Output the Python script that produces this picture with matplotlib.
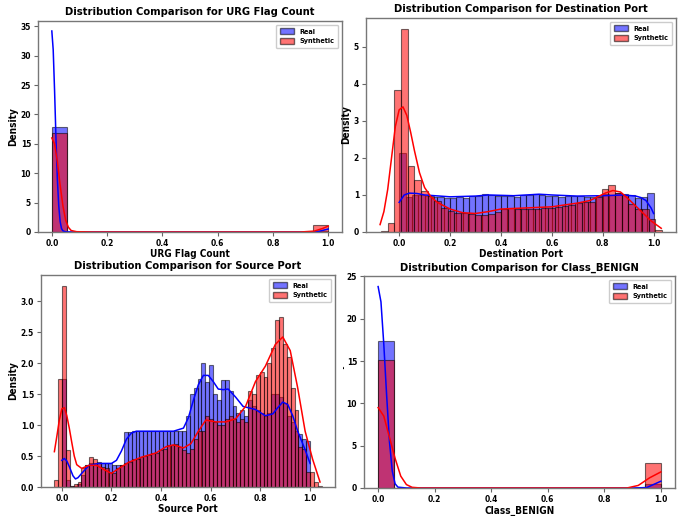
import numpy as np
import matplotlib

matplotlib.use("Agg")
import matplotlib.pyplot as plt
from matplotlib import font_manager
from matplotlib.patches import Patch
from matplotlib.transforms import Bbox, TransformedBbox

# The reference text is narrow; use a condensed face when there is one
fonts = font_manager.fontManager.ttflist
installed = {f.name for f in fonts}
has_condensed = any(f.name == "DejaVu Sans" and f.stretch in ("condensed", 400 - 100) for f in fonts)
if "Liberation Sans Narrow" in installed:
    plt.rcParams["font.family"] = ["Liberation Sans Narrow", "DejaVu Sans"]
    SCALE = 1.0
elif has_condensed:
    plt.rcParams["font.family"] = ["DejaVu Sans"]
    plt.rcParams["font.stretch"] = "condensed"
    SCALE = 0.8
else:
    plt.rcParams["font.family"] = ["DejaVu Sans"]
    SCALE = 0.72
plt.rcParams["font.weight"] = "bold"
plt.rcParams["axes.labelweight"] = "bold"

# ---------------------------------------------------------------------------
# Data (bar heights = density per bin, KDE samples)
# ---------------------------------------------------------------------------
# URG Flag Count: 18 bins on [0, 1]
urg_real = [17.8] + [0.0] * 16 + [0.18]
urg_syn = [16.9] + [0.0] * 16 + [1.15]
urg_real_kde_x = [0.0, 0.005, 0.01, 0.015, 0.02, 0.025, 0.03, 0.035, 0.04, 0.05, 0.1, 0.5, 0.9, 0.95, 0.97, 1.0]
urg_real_kde_y = [34.2, 31.0, 24.0, 16.0, 9.0, 4.5, 1.8, 0.6, 0.2, 0.02, 0.0, 0.0, 0.0, 0.02, 0.15, 0.5]
urg_syn_kde_x = [0.0, 0.01, 0.02, 0.03, 0.04, 0.05, 0.06, 0.07, 0.09, 0.15, 0.5, 0.9, 0.95, 0.98, 1.0]
urg_syn_kde_y = [16.0, 15.0, 12.0, 8.0, 4.5, 2.0, 0.8, 0.25, 0.05, 0.0, 0.0, 0.0, 0.15, 0.6, 1.0]

# Destination Port: real 40 bins on [0, 1], synthetic 42 bins from -0.072
dst_real = [2.13, 0.95, 1.0, 1.0, 0.97, 0.95, 0.95, 0.93, 0.93, 0.95,
            0.93, 0.97, 0.98, 1.02, 1.0, 0.98, 0.97, 0.97, 0.95, 1.0,
            1.0, 1.02, 1.0, 0.98, 0.97, 0.95, 0.97, 0.98, 0.97, 0.95,
            0.95, 0.97, 1.02, 1.0, 1.05, 1.03, 1.0, 0.92, 0.95, 1.05]
dst_syn = [0.02, 0.25, 3.83, 5.48, 1.78, 1.4, 1.1, 0.97, 0.83, 0.65,
           0.58, 0.52, 0.5, 0.48, 0.45, 0.45, 0.48, 0.55, 0.62, 0.65,
           0.62, 0.62, 0.62, 0.63, 0.65, 0.65, 0.68, 0.7, 0.72, 0.78,
           0.8, 0.82, 0.95, 1.15, 1.27, 1.05, 1.0, 0.75, 0.62, 0.62,
           0.35, 0.05]
dst_real_kde_x = [0.0, 0.02, 0.04, 0.07, 0.1, 0.2, 0.3, 0.35, 0.45, 0.55, 0.6, 0.7, 0.8, 0.88,
                  0.93, 0.95, 0.97, 0.99, 1.0]
dst_real_kde_y = [0.8, 1.0, 1.05, 1.04, 1.0, 0.95, 0.97, 1.0, 0.98, 1.02, 1.0, 0.97, 0.98, 1.0,
                  0.97, 0.93, 0.85, 0.65, 0.5]
dst_syn_kde_x = [-0.075, -0.06, -0.045, -0.03, -0.015, 0.0, 0.015, 0.03, 0.045, 0.06, 0.08, 0.1,
                 0.125, 0.15, 0.2, 0.25, 0.3, 0.35, 0.4, 0.5, 0.6, 0.7, 0.75, 0.78, 0.81,
                 0.84, 0.87, 0.9, 0.93, 0.96, 0.99, 1.03]
dst_syn_kde_y = [0.2, 0.55, 1.15, 2.0, 2.85, 3.3, 3.38, 3.15, 2.7, 2.2, 1.6, 1.2,
                 0.95, 0.8, 0.62, 0.52, 0.5, 0.55, 0.62, 0.65, 0.68, 0.78, 0.85, 0.95, 1.05,
                 1.12, 1.08, 0.9, 0.7, 0.5, 0.3, 0.1]

# Source Port: real 64 bins on [0, 1], synthetic 69 bins from -0.03
src_real = [1.75, 0.12, 0.02, 0.02, 0.05, 0.2, 0.35, 0.38, 0.38, 0.38,
            0.38, 0.38, 0.38, 0.35, 0.35, 0.35, 0.88, 0.88, 0.9, 0.9,
            0.9, 0.9, 0.9, 0.9, 0.9, 0.9, 0.9, 0.9, 0.9, 0.9,
            0.9, 0.9, 1.15, 1.5, 1.6, 1.75, 2.0, 1.7, 1.97, 1.5,
            1.4, 1.72, 1.72, 1.55, 1.3, 1.2, 1.25, 1.15, 1.4, 1.3,
            1.25, 1.2, 1.15, 1.2, 1.5, 1.5, 1.45, 1.35, 1.15, 1.05,
            0.9, 0.85, 0.78, 0.75]
src_syn = [0.12, 1.75, 3.25, 0.6, 0.02, 0.05, 0.08, 0.3, 0.35, 0.48,
           0.45, 0.4, 0.32, 0.3, 0.25, 0.22, 0.3, 0.35, 0.38, 0.4,
           0.45, 0.45, 0.48, 0.5, 0.52, 0.55, 0.55, 0.6, 0.62, 0.67,
           0.68, 0.7, 0.65, 0.6, 0.55, 0.62, 0.78, 0.9, 0.9, 1.15,
           1.1, 1.05, 1.0, 1.0, 1.1, 1.15, 1.1, 1.05, 1.1, 1.05,
           1.55, 1.5, 1.8, 1.85, 1.78, 2.0, 2.25, 2.7, 2.75, 2.3,
           2.1, 1.6, 1.25, 0.65, 0.62, 0.25, 0.25, 0.08, 0.02]
src_real_kde_x = [0.0, 0.01, 0.02, 0.03, 0.045, 0.055, 0.065, 0.08, 0.11, 0.15, 0.2, 0.22, 0.24,
                  0.26, 0.28, 0.3, 0.35, 0.45, 0.49, 0.51, 0.53, 0.55, 0.57, 0.59, 0.61, 0.63,
                  0.65, 0.67, 0.7, 0.73, 0.78, 0.82, 0.85, 0.87, 0.89, 0.91, 0.93, 0.95, 0.98, 1.0]
src_real_kde_y = [0.43, 0.46, 0.42, 0.33, 0.18, 0.13, 0.15, 0.22, 0.35, 0.38, 0.38, 0.43, 0.58,
                  0.77, 0.87, 0.9, 0.9, 0.9, 0.95, 1.12, 1.4, 1.65, 1.8, 1.8, 1.7, 1.58,
                  1.57, 1.58, 1.45, 1.3, 1.25, 1.15, 1.18, 1.28, 1.37, 1.33, 1.15, 0.9, 0.6, 0.38]
src_syn_kde_x = [-0.03, -0.02, -0.01, 0.0, 0.01, 0.02, 0.03, 0.04, 0.05, 0.06, 0.08, 0.11, 0.14,
                 0.17, 0.2, 0.23, 0.27, 0.32, 0.38, 0.42, 0.45, 0.49, 0.52, 0.55, 0.58, 0.62,
                 0.66, 0.7, 0.74, 0.78, 0.82, 0.86, 0.89, 0.92, 0.95, 0.98, 1.01, 1.04]
src_syn_kde_y = [0.57, 0.82, 1.08, 1.26, 1.28, 1.15, 0.95, 0.72, 0.5, 0.36, 0.3, 0.35, 0.35,
                 0.28, 0.22, 0.3, 0.4, 0.48, 0.55, 0.65, 0.68, 0.63, 0.7, 0.9, 1.08, 1.05,
                 1.05, 1.1, 1.3, 1.7, 1.95, 2.3, 2.42, 2.2, 1.6, 0.9, 0.45, 0.08]

# Class_BENIGN: 18 bins on [0, 1]
cls_real = [17.4] + [0.0] * 16 + [0.5]
cls_syn = [15.1] + [0.0] * 16 + [2.9]
cls_real_kde_x = [0.0, 0.01, 0.02, 0.03, 0.04, 0.05, 0.06, 0.07, 0.1, 0.9, 0.95, 0.97, 1.0]
cls_real_kde_y = [23.8, 22.0, 17.0, 11.0, 5.5, 2.0, 0.5, 0.1, 0.0, 0.0, 0.05, 0.35, 0.8]
cls_syn_kde_x = [0.0, 0.02, 0.04, 0.06, 0.08, 0.1, 0.12, 0.15, 0.88, 0.92, 0.96, 1.0]
cls_syn_kde_y = [9.5, 8.5, 6.0, 3.5, 1.4, 0.4, 0.08, 0.0, 0.0, 0.3, 1.2, 1.9]


def bars(ax, start, width, heights, color):
    lefts = start + width * np.arange(len(heights))
    ax.bar(lefts, heights, width=width, align="edge", color=color, alpha=0.55,
           edgecolor="black", linewidth=0.8)


def panel(ax, title, xlabel, real, syn, real_kde, syn_kde):
    bars(ax, *real, color="blue")
    ax.plot(*real_kde, color="blue", lw=1.1)
    bars(ax, *syn, color="red")
    ax.plot(*syn_kde, color="red", lw=1.1)
    ax.set_title(title, fontsize=10 * SCALE, fontweight="bold", pad=4)
    ax.set_xlabel(xlabel, fontsize=9 * SCALE, labelpad=1)
    ax.set_ylabel("Density", fontsize=9 * SCALE, labelpad=2)
    ax.set_xticks([0.0, 0.2, 0.4, 0.6, 0.8, 1.0])
    ax.tick_params(labelsize=7.5 * SCALE, length=3, width=0.8, color="#666", pad=2)
    for s in ax.spines.values():
        s.set_color("#777")
        s.set_linewidth(1.0)
    handles = [Patch(facecolor="blue", alpha=0.55, edgecolor="black", label="Real"),
               Patch(facecolor="red", alpha=0.55, edgecolor="black", label="Synthetic")]
    ax.legend(handles=handles, loc="upper right", fontsize=6.5 * SCALE, handlelength=2.0,
              handleheight=0.9, borderpad=0.5, labelspacing=0.45, framealpha=1)


fig = plt.figure(figsize=(6.86, 5.16), dpi=100)
ax1 = fig.add_axes([0.0554, 0.5504, 0.4431, 0.4089])
ax2 = fig.add_axes([0.5335, 0.5504, 0.4519, 0.4147])
ax3 = fig.add_axes([0.0598, 0.0562, 0.4285, 0.4109])
ax4 = fig.add_axes([0.5306, 0.0543, 0.4534, 0.4108])

panel(ax1, "Distribution Comparison for URG Flag Count", "URG Flag Count",
      (0.0, 1 / 18, urg_real), (0.0, 1 / 18, urg_syn),
      (urg_real_kde_x, urg_real_kde_y), (urg_syn_kde_x, urg_syn_kde_y))
panel(ax2, "Distribution Comparison for Destination Port", "Destination Port",
      (0.0, 0.025, dst_real), (-0.072, 0.0263, dst_syn),
      (dst_real_kde_x, dst_real_kde_y), (dst_syn_kde_x, dst_syn_kde_y))
panel(ax3, "Distribution Comparison for Source Port", "Source Port",
      (0.0, 1 / 64, src_real), (-0.03, 0.0156, src_syn),
      (src_real_kde_x, src_real_kde_y), (src_syn_kde_x, src_syn_kde_y))
panel(ax4, "Distribution Comparison for Class_BENIGN", "Class_BENIGN",
      (0.0, 1 / 18, cls_real), (0.0, 1 / 18, cls_syn),
      (cls_real_kde_x, cls_real_kde_y), (cls_syn_kde_x, cls_syn_kde_y))

ax1.set_ylim(0, 35.9)
ax2.set_ylim(0, 5.78)
ax3.set_ylim(0, 3.42)
ax4.set_ylim(0, 25.05)

# the right-hand "Density" label is cut at the panel border in the reference
lab = ax4.yaxis.label
lab.set_clip_box(TransformedBbox(Bbox([[0.5, 0.0], [1.0, 1.0]]), fig.transFigure))
lab.set_clip_on(True)

fig.savefig("out.png", dpi=100)
